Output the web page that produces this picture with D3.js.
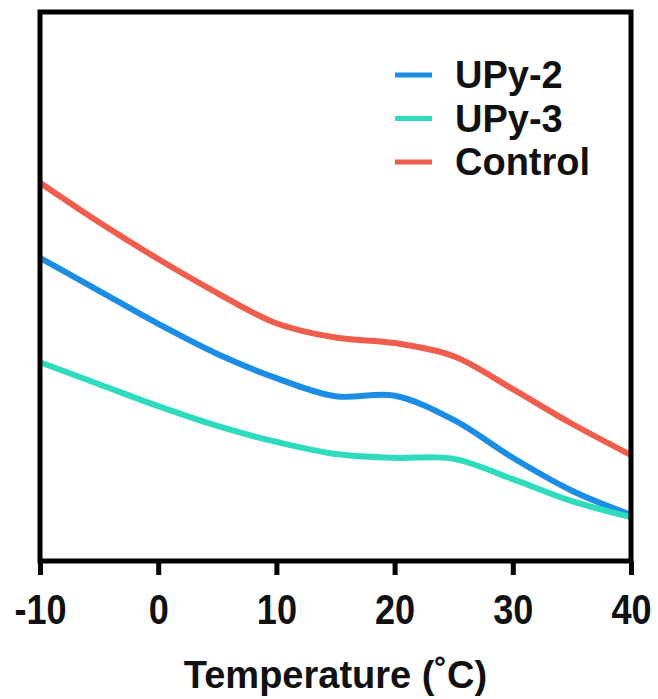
<!DOCTYPE html>
<html>
<head>
<meta charset="utf-8">
<script src="https://cdn.jsdelivr.net/npm/d3@7"></script>
<style>
  body { margin: 0; background: #fff; }
</style>
</head>
<body>
<div id="chart"></div>
<script>
// data (y in arbitrary units)
const temps = [-10, -5, 0, 5, 10, 15, 20, 25, 30, 35, 40];
const upy2 = [55.2, 49.2, 43.2, 37.7, 33.3, 30.0, 30.1, 25.7, 18.8, 12.8, 8.4];
const upy3 = [36.2, 32.2, 28.2, 24.6, 21.7, 19.5, 18.8, 18.6, 14.9, 10.9, 8.0];
const control = [68.9, 61.7, 55.0, 48.8, 43.3, 40.7, 39.7, 37.3, 31.3, 25.0, 19.3];
const seriesNames = ["UPy-2", "UPy-3", "Control"];
const xTicks = [-10, 0, 10, 20, 30, 40];

const width = 658, height = 699;
const margin = {top: 12, right: 27, bottom: 138, left: 40};

//colors
const blue = "#1b8de4",
      teal = "#2edcbd",
      red = "#f05d4d";

const series = [
    {name: seriesNames[0], values: upy2, color: blue},
    {name: seriesNames[1], values: upy3, color: teal},
    {name: seriesNames[2], values: control, color: red}
];

const $svg = d3.select("#chart")
    .append("svg")
    .attr("width", width)
    .attr("height", height);

const x = d3.scaleLinear()
    .domain([-10, 40])
    .range([margin.left, width - margin.right]);

const y = d3.scaleLinear()
    .domain([0, 100])
    .range([height - margin.bottom, margin.top]);

const line = d3.line()
    .x((d, i) => x(temps[i]))
    .y(d => y(d))
    .curve(d3.curveCatmullRom.alpha(0.5));

// curves
$svg.append("g")
    .selectAll("path")
    .data(series)
    .join("path")
    .attr("d", d => line(d.values))
    .attr("fill", "none")
    .attr("stroke", d => d.color)
    .attr("stroke-width", 6)
    .attr("stroke-linecap", "butt");

// frame
$svg.append("rect")
    .attr("x", margin.left)
    .attr("y", margin.top)
    .attr("width", width - margin.left - margin.right)
    .attr("height", height - margin.top - margin.bottom)
    .attr("fill", "none")
    .attr("stroke", "#000")
    .attr("stroke-width", 5);

// x axis
const xAxis = $svg.append("g")
    .attr("transform", `translate(0,${height - margin.bottom})`)
    .call(d3.axisBottom(x).tickValues(xTicks).tickSize(14).tickFormat(d => String(d)));

xAxis.select(".domain").remove();
xAxis.selectAll(".tick line")
    .attr("stroke", "#000")
    .attr("stroke-width", 5);
xAxis.selectAll(".tick text")
    .attr("y", 63)
    .attr("dy", 0)
    .attr("fill", "#111")
    .attr("font-family", "Liberation Sans, Arial, sans-serif")
    .attr("font-weight", "bold")
    .attr("font-size", 42)
    .attr("transform", "scale(0.86,1)");

// axis title
$svg.append("text")
    .attr("x", (x(-10) + x(40)) / 2)
    .attr("y", 688)
    .attr("text-anchor", "middle")
    .attr("fill", "#111")
    .attr("font-family", "Liberation Sans, Arial, sans-serif")
    .attr("font-weight", "bold")
    .attr("font-size", 38)
    .text("Temperature (˚C)");

// legend
const legend = $svg.append("g")
    .selectAll("g")
    .data(series)
    .join("g")
    .attr("transform", (d, i) => `translate(395,${75 + i * 43.5})`);

legend.append("line")
    .attr("x1", 0)
    .attr("x2", 37)
    .attr("stroke", d => d.color)
    .attr("stroke-width", 5);

legend.append("text")
    .attr("x", 60)
    .attr("y", 13)
    .attr("fill", "#111")
    .attr("font-family", "Liberation Sans, Arial, sans-serif")
    .attr("font-weight", "bold")
    .attr("font-size", 38)
    .text(d => d.name);
</script>
</body>
</html>
